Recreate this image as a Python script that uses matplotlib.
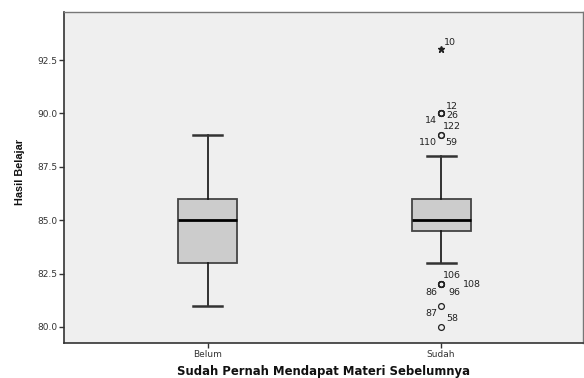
import matplotlib.pyplot as plt

# groups on the x axis
groups = ["Belum", "Sudah"]

# five-number summaries per group
whisker_low = [81.0, 83.0]
box_q1 = [83.0, 84.5]
box_median = [85.0, 85.0]
box_q3 = [86.0, 86.0]
whisker_high = [89.0, 88.0]

# outliers of the "Sudah" group (case number, score)
outlier_ids = ["12", "26", "14", "122", "110", "59", "106", "108", "86", "96", "87", "58"]
outlier_vals = [90, 90, 90, 90, 89, 89, 82, 82, 82, 82, 81, 80]
extreme_ids = ["10"]
extreme_vals = [93]

# label offsets in pixels (dx to the left edge of the text, dy upward)
outlier_offsets = [(5, 7), (5, -2.5), (-16, -7.3), (2, -12.6), (-22, -8), (4, -8),
                   (2, 8.5), (22, 0), (-16, -8), (7, -8.5), (-16, -7.5), (5, 8)]
extreme_offsets = [(3, 6.5)]

fig = plt.figure(figsize=(5.84, 3.78), dpi=100)
fig.patch.set_facecolor("white")
ax = fig.add_axes([64 / 584, 35 / 378, 519 / 584, 331 / 378])
ax.set_facecolor("#efefef")

stats = []
for i, g in enumerate(groups):
    stats.append({"label": g, "whislo": whisker_low[i], "q1": box_q1[i],
                  "med": box_median[i], "q3": box_q3[i], "whishi": whisker_high[i],
                  "fliers": []})

pos = [1, 2]
ax.bxp(stats, positions=pos, widths=0.253, patch_artist=True, showfliers=False,
       capwidths=0.124,
       boxprops=dict(facecolor="#cccccc", edgecolor="#444444", linewidth=1.3),
       medianprops=dict(color="black", linewidth=2.0),
       whiskerprops=dict(color="#111111", linewidth=1.2),
       capprops=dict(color="#333333", linewidth=1.8))

# outliers (circles) and extremes (stars) with their case numbers
ax.plot([2] * len(outlier_vals), outlier_vals, linestyle="none", marker="o",
        markersize=4.2, markerfacecolor="none", markeredgecolor="#222222",
        markeredgewidth=0.9)
ax.plot([2] * len(extreme_vals), extreme_vals, linestyle="none", marker="*",
        markersize=5, color="#222222")

for lab, v, (dx, dy) in zip(outlier_ids + extreme_ids, outlier_vals + extreme_vals,
                            outlier_offsets + extreme_offsets):
    ax.annotate(lab, xy=(2, v), xytext=(dx, dy), textcoords="offset pixels",
                ha="left", va="center", fontsize=6.8, color="#222222")

ax.set_xlim(0.385, 2.608)
ax.set_ylim(79.25, 94.75)
ax.set_xticks(pos)
ax.set_xticklabels(groups)
ax.set_yticks([80.0, 82.5, 85.0, 87.5, 90.0, 92.5])
ax.set_yticklabels(["80.0", "82.5", "85.0", "87.5", "90.0", "92.5"])
ax.tick_params(axis="both", direction="out", length=3.5, width=1, color="#333333",
               labelsize=6.5, labelcolor="#333333", pad=1.5)

for side in ["left", "bottom"]:
    ax.spines[side].set_color("#333333")
    ax.spines[side].set_linewidth(1.2)
for side in ["top", "right"]:
    ax.spines[side].set_color("#777777")
    ax.spines[side].set_linewidth(1.0)

ax.set_xlabel("Sudah Pernah Mendapat Materi Sebelumnya", fontsize=8.4, fontweight="bold",
              color="#111111", labelpad=4)
ax.set_ylabel("Hasil Belajar", fontsize=7.8, fontweight="bold", color="#111111",
              family=["Liberation Sans Narrow", "Liberation Sans"])
ax.yaxis.set_label_coords(-0.075, 0.517)

fig.savefig("out.png", dpi=100)
